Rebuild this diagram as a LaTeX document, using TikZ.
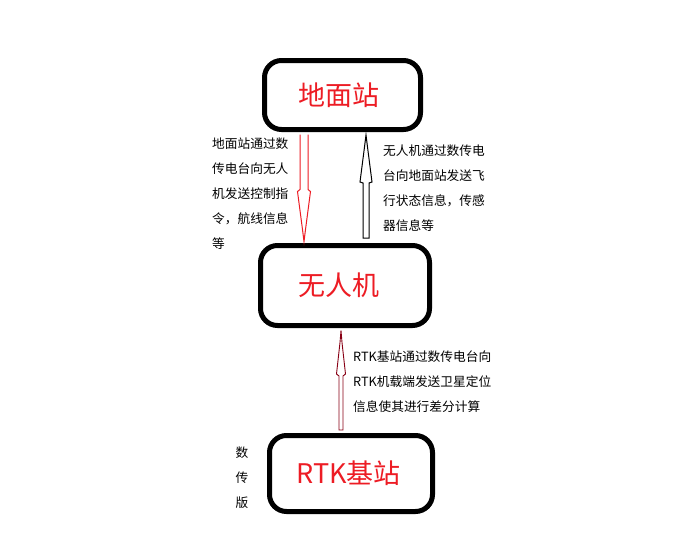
\documentclass[tikz,border=0pt]{standalone}
\usepackage{fontspec}
\setmainfont{Noto Sans CJK SC}
\usetikzlibrary{calc}
\definecolor{pred}{RGB}{237,28,36}
\definecolor{maroon}{RGB}{136,0,21}
\begin{document}
\begin{tikzpicture}[x=1pt,y=-1pt,
  box/.style={draw=black, line width=5pt, rounded corners=17pt, inner sep=0pt,
              font=\fontsize{27}{30}\selectfont, text=pred},
  lbl/.style={font=\fontsize{12.7}{25}\selectfont, align=left, inner sep=0pt, text=black},
  arr/.style={line width=1pt, fill=white, line join=miter}]
\useasboundingbox[fill=white] (0,0) rectangle (678,552);

\node[box, minimum width=156pt, minimum height=69pt] (gs) at (342.5,95) {地面站\hspace*{7pt}};
\node[box, minimum width=169pt, minimum height=80pt] (uav) at (345,285.5) {无人机\hspace*{12pt}};
\node[box, minimum width=163pt, minimum height=76pt] (rtk) at (351,473.5) {RTK基站\hspace*{5pt}};

\coordinate (xr) at (304,0);
\coordinate (xb) at (366,0);
\coordinate (xm) at (341,0);

% red arrow: ground station -> UAV
\coordinate (ra) at ($(gs.south -| xr)+(0,2.5)$);
\coordinate (rb) at ($(uav.north -| xr)+(0,-1.5)$);
\draw[arr, draw=pred] ($(ra)+(-4,0)$) -- ($(ra)+(-4,55)$) -- ($(ra)+(-6.5,57)$)
  -- ($(rb)+(-1.5,-12)$) -- (rb) -- ($(rb)+(1.5,-12)$) -- ($(ra)+(6.5,57)$)
  -- ($(ra)+(4,55)$) -- ($(ra)+(4,0)$);

% black arrow: UAV -> ground station
\coordinate (ba) at ($(uav.north -| xb)+(0,-5)$);
\coordinate (bt) at ($(gs.south -| xb)+(0,3)$);
\draw[arr, draw=black] ($(ba)+(-3,0)$) -- ($(ba)+(-3,-55)$) -- ($(ba)+(-6,-56)$)
  -- ($(bt)+(-1.5,12)$) -- (bt) -- ($(bt)+(1.5,12)$) -- ($(ba)+(6,-56)$)
  -- ($(ba)+(3,-55)$) -- ($(ba)+(3,0)$) -- cycle;

% maroon arrow: RTK base -> UAV
\coordinate (ma) at ($(rtk.north -| xm)+(0,-3)$);
\coordinate (mt) at ($(uav.south -| xm)+(0,2.5)$);
\draw[arr, draw=maroon, line width=0.9pt] ($(ma)+(-2,0)$) -- ($(ma)+(-2,-54)$) -- ($(ma)+(-4.5,-56)$)
  -- ($(mt)+(-1,12)$) -- (mt) -- ($(mt)+(1,12)$) -- ($(ma)+(4.5,-56)$)
  -- ($(ma)+(2,-54)$) -- ($(ma)+(2,0)$) -- cycle;

\node[lbl, anchor=west] (t1) at (212,194) {地面站通过数\\传电台向无人\\机发送控制指\\令，航线信息\\等};
\node[lbl, anchor=west] (t2) at (383,188.5) {无人机通过数传电\\台向地面站发送飞\\行状态信息，传感\\器信息等};
\node[lbl, anchor=west] (t3) at (353,381.5) {RTK基站通过数传电台向\\RTK机载端发送卫星定位\\信息使其进行差分计算};
\node[lbl, align=center] (t4) at (242,477.5) {数\\传\\版};
\end{tikzpicture}
\end{document}
